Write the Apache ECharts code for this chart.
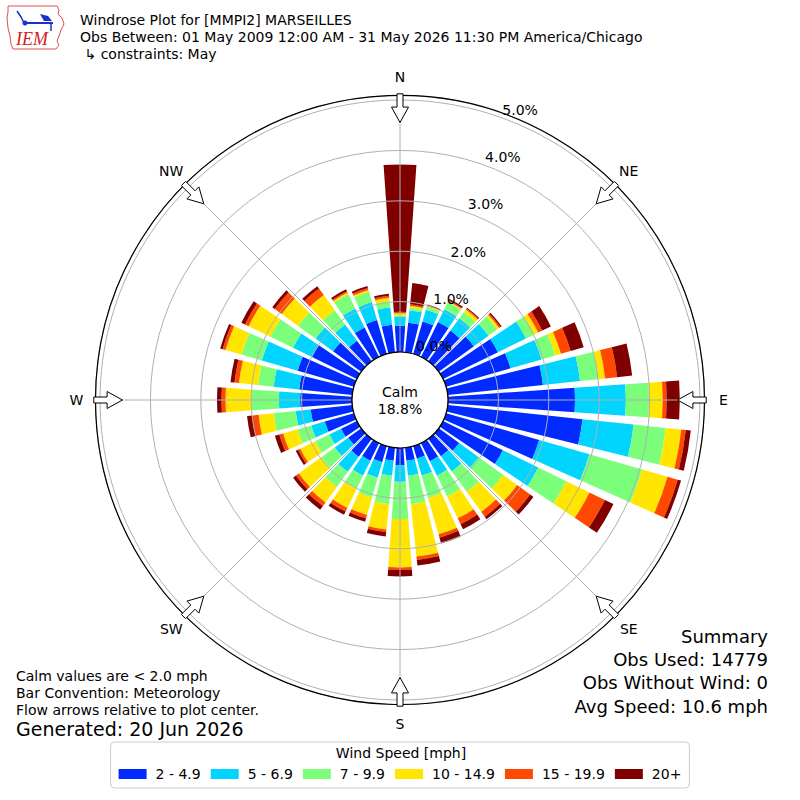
<!DOCTYPE html>
<html><head><meta charset="utf-8">
<script src="https://cdn.jsdelivr.net/npm/echarts@6/dist/echarts.min.js"></script>
<style>html,body{margin:0;padding:0;background:#fff}#c{width:800px;height:800px}</style>
</head><body><div id="c"></div>
<script>
// ---- data (percent of observations, per 10-degree sector, from North clockwise) ----
const directions = ['0','10','20','30','40','50','60','70','80','90','100','110','120','130','140','150','160','170',
  '180','190','200','210','220','230','240','250','260','270','280','290','300','310','320','330','340','350'];
const speedBins = ['2 - 4.9','5 - 6.9','7 - 9.9','10 - 14.9','15 - 19.9','20+'];
const binColors = ['#002aff','#00d4ff','#7bff7b','#ffe500','#ff4800','#800000'];
const speed2to5 = [0.52,0.59,0.67,0.77,0.75,0.86,1.21,1.33,1.90,2.52,2.69,1.92,1.32,0.50,0.43,0.40,0.26,0.26,
  0.34,0.26,0.33,0.39,0.44,0.32,0.35,0.60,0.83,1.03,1.06,1.16,0.99,0.69,0.50,0.65,0.70,0.55];
const speed5to7 = [0.18,0.25,0.24,0.28,0.30,0.36,0.62,0.64,0.74,1.01,1.02,1.04,0.78,0.48,0.37,0.32,0.35,0.30,
  0.33,0.30,0.32,0.33,0.37,0.33,0.26,0.28,0.30,0.42,0.51,0.74,0.42,0.43,0.40,0.42,0.37,0.35];
const speed7to10 = [0.03,0.05,0.06,0.16,0.15,0.21,0.18,0.28,0.37,0.46,0.64,1.09,0.62,0.60,0.50,0.46,0.46,0.57,
  0.74,0.57,0.41,0.29,0.37,0.33,0.31,0.28,0.44,0.54,0.31,0.42,0.50,0.43,0.35,0.31,0.21,0.12];
const speed10to15 = [0.04,0.04,0.02,0.02,0.07,0.05,0.09,0.12,0.13,0.27,0.31,0.52,0.51,0.34,0.49,0.48,0.75,1.04,
  0.96,0.50,0.36,0.42,0.38,0.55,0.33,0.30,0.30,0.52,0.38,0.33,0.48,0.40,0.37,0.04,0.04,0.07];
const speed15to20 = [0.03,0.03,0.01,0.02,0.02,0.03,0.09,0.20,0.24,0.08,0.09,0.21,0.34,0.32,0.12,0.13,0.07,0.07,
  0.05,0.05,0.07,0.08,0.09,0.07,0.05,0.08,0.12,0.08,0.09,0.06,0.08,0.17,0.16,0.03,0.04,0.04];
const speed20plus = [2.92,0.42,0.02,0.03,0.02,0.03,0.19,0.27,0.30,0.26,0.10,0.07,0.19,0.08,0.06,0.11,0.12,0.11,
  0.13,0.09,0.07,0.07,0.09,0.07,0.05,0.09,0.11,0.09,0.08,0.05,0.08,0.06,0.06,0.04,0.04,0.04];
const radiusMax = 5.09;
const compassAngles = [0,45,90,135,180,225,270,315];
const compassLabels = ['N','NE','E','SE','S','SW','W','NW'];
const calmText = 'Calm\n18.8%';
const titleLines = ['Windrose Plot for [MMPI2] MARSEILLES',
  'Obs Between: 01 May 2009 12:00 AM - 31 May 2026 11:30 PM America/Chicago',
  ' \u21b3 constraints: May'];
const noteLines = ['Calm values are < 2.0 mph','Bar Convention: Meteorology','Flow arrows relative to plot center.'];
const generatedText = 'Generated: 20 Jun 2026';
const summaryLines = ['Summary','Obs Used: 14779','Obs Without Wind: 0','Avg Speed: 10.6 mph'];

// ---- chart ----
const FONT = '"DejaVu Sans", sans-serif';
const chart = echarts.init(document.getElementById('c'), null, {renderer: 'svg'});
const binValues = [speed2to5, speed5to7, speed7to10, speed10to15, speed15to20, speed20plus];

const barSeries = speedBins.map((name, i) => ({
  type: 'bar', name, coordinateSystem: 'polar', polarIndex: 0, stack: 'wind',
  data: binValues[i], itemStyle: {color: binColors[i]}, barCategoryGap: '20%', z: 2, silent: true
}));

// compass arrows + direction labels, positioned through the polar coordinate system
const arrowSeries = {
  type: 'custom', coordinateSystem: 'polar', polarIndex: 1, z: 10, silent: true,
  data: compassAngles.map((a, i) => [radiusMax, a, i]),
  renderItem(params, api) {
    const a = api.value(1);
    const o = api.coord([api.value(0), a]);
    const c = api.coord([0, a]);
    const dx = c[0] - o[0], dy = c[1] - o[1];
    const L = Math.hypot(dx, dy);
    const ux = dx / L, uy = dy / L, px = -uy, py = ux;
    const local = [[-1.7, -3], [11.6, -3], [11.6, -8.5], [27, 0], [11.6, 8.5], [11.6, 3], [-1.7, 3]];
    const pts = local.map(([s, w]) => [o[0] + ux * s + px * w, o[1] + uy * s + py * w]);
    const lab = compassLabels[api.value(2)];
    return {type: 'group', children: [
      {type: 'polygon', shape: {points: pts}, style: {fill: '#fff', stroke: '#000', lineWidth: 1}},
      {type: 'text', x: o[0] - ux * 19, y: o[1] - uy * 19,
        style: {text: lab, fill: '#000', font: '14px ' + FONT, align: 'center', verticalAlign: 'middle'}}
    ]};
  }
};

function txt(text, x, y, size, align, extra) {
  return Object.assign({type: 'text', x, y, z: 50,
    style: {text, fill: '#000', font: size + 'px ' + FONT, align: align || 'left', verticalAlign: 'middle'}}, extra || {});
}

const graphics = [
  // calm circle
  {type: 'circle', shape: {cx: 400, cy: 400, r: 48}, style: {fill: '#fff', stroke: '#000', lineWidth: 1.2}, z: 40},
  {type: 'text', x: 400, y: 400, z: 50, style: {text: calmText, fill: '#000', font: '14px ' + FONT, align: 'center', verticalAlign: 'middle', lineHeight: 17}},
  // header
  txt(titleLines[0], 80, 20, 14), txt(titleLines[1], 80, 37, 14), txt(titleLines[2], 80, 54, 14),
  // notes
  txt(noteLines[0], 16, 676, 14), txt(noteLines[1], 16, 693, 14), txt(noteLines[2], 16, 710, 14),
  txt(generatedText, 16, 729, 19),
  // summary
  txt(summaryLines[0], 768, 636, 18, 'right'), txt(summaryLines[1], 768, 659, 18, 'right'),
  txt(summaryLines[2], 768, 682, 18, 'right'), txt(summaryLines[3], 768, 706, 18, 'right'),
  // legend title
  txt('Wind Speed [mph]', 401, 753, 14, 'center'),
  // IEM logo (approximation)
  {type: 'polyline', z: 50, shape: {points: [[8,6],[57,6],[59,10],[58,14],[62,18],[64,24],[61,30],[59,36],[57,41],[59,45],[56,49],[13,49],[11,44],[10,36],[8,28],[7,18],[8,12],[8,6]]},
    style: {stroke: '#e05050', lineWidth: 1, fill: 'none'}},
  {type: 'polyline', z: 51, shape: {points: [[17,11],[21,17],[24,23]]}, style: {stroke: '#1a2fd0', lineWidth: 1.5, fill: 'none'}},
  {type: 'line', z: 51, shape: {x1: 23, y1: 23, x2: 53, y2: 23}, style: {stroke: '#1a2fd0', lineWidth: 2}},
  {type: 'circle', z: 51, shape: {cx: 25, cy: 23, r: 2.5}, style: {fill: '#1a2fd0'}},
  {type: 'polygon', z: 51, shape: {points: [[40,14],[48,16],[52,21],[44,21]]}, style: {fill: '#1a2fd0'}},
  {type: 'line', z: 51, shape: {x1: 51, y1: 23, x2: 51, y2: 31}, style: {stroke: '#1a2fd0', lineWidth: 1.5}},
  {type: 'text', x: 32, y: 39, z: 51, style: {text: 'IEM', fill: '#d42020', font: 'italic 18px "Liberation Serif", serif', align: 'center', verticalAlign: 'middle'}}
];

const option = {
  animation: false,
  textStyle: {fontFamily: FONT},
  polar: [
    {center: [400, 400], radius: [48, 304.5]},
    {center: [400, 400], radius: [48, 304.5]},
    {center: [412.7, 404.6], radius: [62, 318.5]}
  ],
  angleAxis: [
    {polarIndex: 0, type: 'category', data: directions, startAngle: 95, clockwise: true, boundaryGap: true,
      axisLine: {show: false}, axisTick: {show: false}, axisLabel: {show: false}, splitLine: {show: false}, splitArea: {show: false}},
    {polarIndex: 1, type: 'value', min: 0, max: 360, interval: 45, startAngle: 90, clockwise: true, z: 5,
      axisLine: {show: true, lineStyle: {color: '#000', width: 1.2}}, axisTick: {show: false},
      axisLabel: {show: false},
      splitLine: {show: true, lineStyle: {color: '#b0b0b0', width: 1}}, splitArea: {show: false}},
    {polarIndex: 2, type: 'value', min: 0, max: 360, startAngle: 70, show: false}
  ],
  radiusAxis: [
    {polarIndex: 0, type: 'value', min: 0, max: radiusMax, show: false},
    {polarIndex: 1, type: 'value', min: 0, max: radiusMax, interval: 1, z: 5,
      axisLine: {show: false}, axisTick: {show: false}, axisLabel: {show: false},
      splitLine: {show: true, lineStyle: {color: '#b0b0b0', width: 1}}},
    {polarIndex: 2, type: 'value', min: 0, max: radiusMax, interval: 1, z: 6,
      axisLine: {show: false}, axisTick: {show: false}, splitLine: {show: false},
      axisLabel: {show: true, margin: 0, align: 'center', verticalAlign: 'middle', color: '#000', fontSize: 14, fontFamily: FONT,
        formatter: v => Number.isInteger(v) ? v.toFixed(1) + '%' : ''}}
  ],
  legend: {
    data: speedBins, left: 'center', top: 742, orient: 'horizontal',
    itemWidth: 28, itemHeight: 10, itemGap: 10, icon: 'rect',
    padding: [25, 8, 7, 8], borderColor: '#cccccc', borderWidth: 1, borderRadius: 4,
    textStyle: {color: '#000', fontSize: 14, fontFamily: FONT, padding: [0, 0, 0, 4]},
    selectedMode: false
  },
  series: barSeries.concat([arrowSeries]),
  graphic: graphics
};
chart.setOption(option);
</script></body></html>
